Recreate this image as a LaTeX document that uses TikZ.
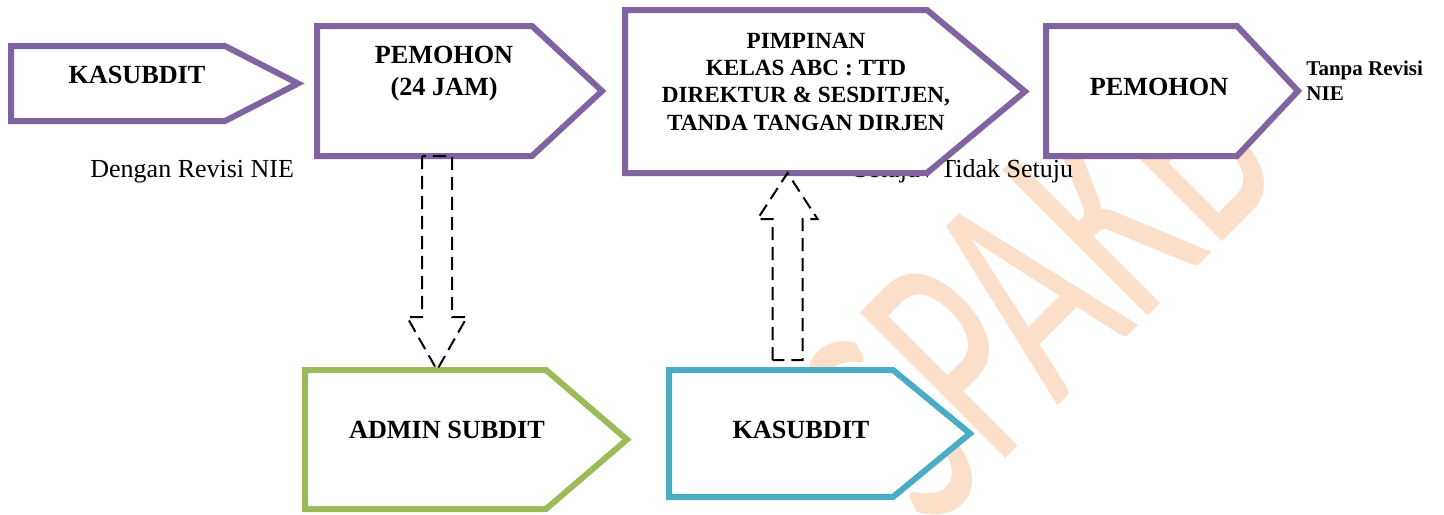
\documentclass[tikz,border=0pt]{standalone}
\usepackage{fontspec}
\setmainfont{Liberation Serif}
\newfontfamily\wmfont{Carlito}
\usetikzlibrary{calc,fit}
\definecolor{boxpurple}{RGB}{128,100,162}
\definecolor{boxgreen}{RGB}{155,187,89}
\definecolor{boxblue}{RGB}{75,172,198}
\definecolor{wmorange}{RGB}{251,223,200}
\newcommand\homeplate[3]{\filldraw[plate, draw=#3] (#1.north west) -- ($(#1.north east)+(-#2,0)$) -- (#1.east) -- ($(#1.south east)+(-#2,0)$) -- (#1.south west) -- cycle;}
\newcommand\blockarrow[3]{\draw[blockarr] ($(#1)+(-15,0)$) -- ($(#2)+(-15,#3)$) -- ($(#2)+(-30,#3)$) -- (#2) -- ($(#2)+(30,#3)$) -- ($(#2)+(15,#3)$) -- ($(#1)+(15,0)$) -- cycle;}
\begin{document}
\begin{tikzpicture}[x=0.5pt,y=-0.5pt,
  frame/.style={inner sep=0pt, outer sep=0pt},
  plate/.style={line width=3pt, fill=white, line join=miter},
  lbl/.style={font=\fontsize{13.1pt}{16pt}\selectfont\bfseries, inner sep=0pt, anchor=base, align=center},
  smalllbl/.style={font=\fontsize{11.6pt}{13.65pt}\selectfont\bfseries, inner sep=0pt, anchor=base, align=center},
  notelbl/.style={font=\fontsize{10.5pt}{12.5pt}\selectfont\bfseries, inner sep=0pt, anchor=base west, align=left},
  plain/.style={font=\fontsize{13pt}{15pt}\selectfont, inner sep=0pt},
  blockarr/.style={line width=1pt, dash pattern=on 6.5pt off 3.5pt, line join=miter},
  wm/.style={font=\wmfont\fontsize{89pt}{95pt}\selectfont, text=wmorange, inner sep=0pt}
]
\useasboundingbox (0,0) rectangle (1444,514);
\fill[white] (0,0) rectangle (1444,514);
% watermark
\node[wm, rotate=45, anchor=base] (wm) at (1110,354) {\scalebox{1.12}[1.8]{SPAKB}};
% free texts
\node[plain, anchor=base west] (dengan) at (90,177) {Dengan Revisi NIE};
\node[plain, anchor=base east] (setuju) at (1073.5,177.5) {Setuju / Tidak Setuju};
% box frames
\node[frame, fit={(11,46) (298,121)}] (b1) {};
\node[frame, fit={(317,26) (602,156)}] (b2) {};
\node[frame, fit={(625,10) (1025,173)}] (b3) {};
\node[frame, fit={(1046,26) (1298,156)}] (b4) {};
\node[frame, fit={(305,370) (627,509)}] (b5) {};
\node[frame, fit={(669,370) (970,497)}] (b6) {};
\homeplate{b1}{73}{boxpurple}
\homeplate{b2}{70}{boxpurple}
\homeplate{b3}{98}{boxpurple}
\homeplate{b4}{61}{boxpurple}
\homeplate{b5}{81}{boxgreen}
\homeplate{b6}{77}{boxblue}
% labels (multi-line nodes: base = last line)
\node[lbl] (t1) at (137,83) {KASUBDIT};
\node[lbl] (t2) at (444,95) {PEMOHON\\(24 JAM)};
\node[smalllbl] (t3) at (806,130) {PIMPINAN\\KELAS ABC : TTD\\DIREKTUR \& SESDITJEN,\\TANDA TANGAN DIRJEN};
\node[lbl] (t4) at (1159,95) {PEMOHON};
\node[notelbl] (t4n) at (1306,100.7) {Tanpa Revisi\\NIE};
\node[lbl] (t5) at (447,438.3) {ADMIN SUBDIT};
\node[lbl] (t6) at (801,438.3) {KASUBDIT};
% dashed block arrows
\coordinate (a1s) at ($(b2.south)+(-22.5,0)$);
\coordinate (a1e) at (a1s |- b5.north);
\blockarrow{a1s}{a1e}{-53}
\coordinate (a2s) at ($(b6.north)+(-32,-10)$);
\coordinate (a2e) at (a2s |- b3.south);
\blockarrow{a2s}{a2e}{46}
\end{tikzpicture}
\end{document}
